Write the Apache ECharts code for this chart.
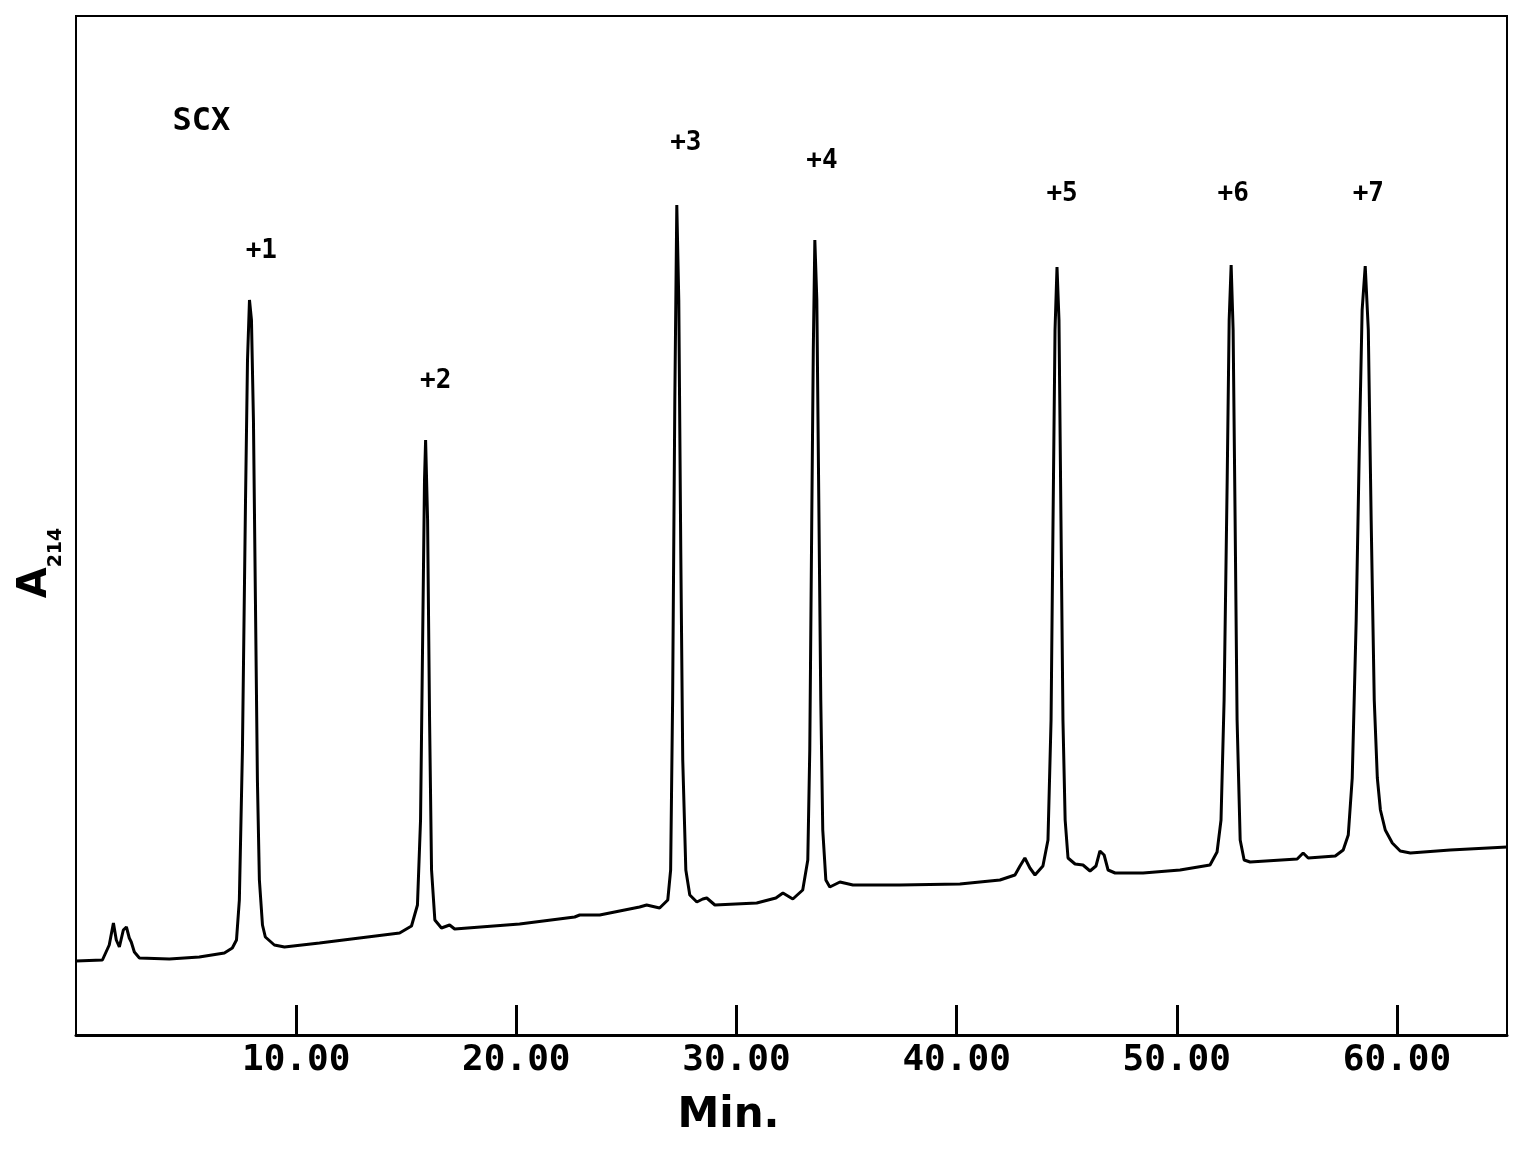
<!DOCTYPE html>
<html>
<head>
<meta charset="utf-8">
<script src="https://cdn.jsdelivr.net/npm/echarts@6/dist/echarts.min.js"></script>
<style>
html,body{margin:0;padding:0;background:#fff;}
#chart{width:1527px;height:1150px;}
</style>
</head>
<body>
<div id="chart"></div>
<script>
// Retention time (min)
const timeMin = [
  0.00, 1.20, 1.51, 1.70, 1.83, 1.97, 2.15, 2.29, 2.42, 2.51, 2.65, 2.88, 4.24, 5.60, 6.74, 7.10, 7.29,
  7.42, 7.56, 7.70, 7.79, 7.88, 7.97, 8.06, 8.15, 8.24, 8.33, 8.47, 8.60, 9.01, 9.47,
  11.06, 12.88, 14.70, 15.24, 15.51, 15.65, 15.74, 15.83, 15.88, 15.97, 16.06, 16.15, 16.30, 16.60, 16.97, 17.20,
  20.15, 22.65, 22.88, 23.79, 25.60, 25.92, 26.51, 26.88,
  27.01, 27.10, 27.20, 27.29, 27.38, 27.47, 27.56, 27.70, 27.88, 28.20, 28.47, 28.65, 29.02,
  30.92, 31.79, 32.11, 32.56, 33.01,
  33.24, 33.33, 33.42, 33.49, 33.56, 33.65, 33.74, 33.83, 33.92, 34.06, 34.24, 34.70, 35.29,
  37.42, 40.15, 41.97, 42.65, 42.88, 43.10, 43.33, 43.56, 43.92,
  44.15, 44.29, 44.38, 44.47, 44.56, 44.65, 44.74, 44.83, 44.93, 45.06, 45.38, 45.74,
  46.06, 46.33, 46.51, 46.70, 46.88, 47.20, 48.47, 50.15, 51.51,
  51.83, 52.01, 52.15, 52.29, 52.38, 52.47, 52.56, 52.65, 52.74, 52.88, 53.06, 53.33,
  55.47, 55.74, 55.97, 57.20, 57.56,
  57.79, 57.97, 58.15, 58.29, 58.42, 58.56, 58.70, 58.83, 58.97, 59.11, 59.25, 59.47, 59.79, 60.15, 60.61,
  62.42, 65.00
];
// Absorbance at 214 nm (arbitrary units)
const absorbance = [
  7.4, 7.5, 9.0, 11.2, 9.5, 8.8, 10.5, 10.8, 9.7, 9.3, 8.3, 7.7, 7.6, 7.8, 8.2, 8.7, 9.5,
  13.5, 28.5, 53.5, 67.5, 73.5, 71.5, 61.5, 43.5, 25.5, 15.5, 11.0, 9.8, 9.0, 8.8,
  9.2, 9.7, 10.2, 10.9, 13.0, 21.5, 38.5, 55.5, 59.5, 51.5, 31.5, 16.5, 11.5, 10.7, 11.0, 10.6,
  11.1, 11.8, 12.0, 12.0, 12.8, 13.0, 12.7, 13.5,
  16.5, 33.5, 63.5, 83.0, 73.5, 48.5, 27.5, 16.5, 14.0, 13.3, 13.6, 13.7, 13.0,
  13.2, 13.7, 14.2, 13.6, 14.5,
  17.5, 28.5, 51.5, 68.5, 79.5, 73.5, 53.5, 33.5, 20.5, 15.5, 14.8, 15.3, 15.0,
  15.0, 15.1, 15.5, 16.0, 16.9, 17.7, 16.7, 16.0, 16.9,
  19.5, 31.5, 51.5, 70.5, 76.8, 71.5, 51.5, 31.5, 21.5, 17.7, 17.1, 17.0,
  16.4, 16.9, 18.4, 18.0, 16.5, 16.2, 16.2, 16.5, 17.0,
  18.3, 21.5, 33.5, 55.5, 71.5, 77.0, 70.5, 51.5, 31.5, 19.5, 17.5, 17.3,
  17.6, 18.2, 17.7, 17.9, 18.5,
  20.0, 25.7, 41.5, 58.5, 72.5, 76.9, 70.5, 51.5, 33.5, 25.7, 22.5, 20.5, 19.2, 18.4, 18.2,
  18.5, 18.8
];
// Annotations
const noteText = ['SCX', '+1', '+2', '+3', '+4', '+5', '+6', '+7'];
const noteTime = [5.7, 8.42, 16.34, 27.70, 33.88, 44.79, 52.56, 58.70];
const noteLevel = [91.3, 78.4, 65.4, 89.2, 87.4, 84.1, 84.1, 84.1];
const xTicks = [10, 20, 30, 40, 50, 60];

const traceData = timeMin.map((t, i) => [t, absorbance[i]]);
const noteData = noteText.map((s, i) => {
  const item = { value: [noteTime[i], noteLevel[i]], name: s };
  if (i === 0) item.label = { fontSize: 32 };
  return item;
});

const chart = echarts.init(document.getElementById('chart'), null, { renderer: 'canvas' });
chart.setOption({
  animation: false,
  backgroundColor: '#fff',
  grid: {
    left: 76, right: 20, top: 16, bottom: 115,
    outerBoundsMode: 'none', containLabel: false,
    show: true, borderColor: '#000', borderWidth: 2, backgroundColor: 'transparent'
  },
  xAxis: {
    type: 'value', min: 0, max: 65, interval: 10,
    name: 'Min.', nameLocation: 'middle', nameGap: 60,
    nameTextStyle: { fontFamily: 'DejaVu Sans', fontWeight: 'bold', fontSize: 42, color: '#000', padding: [0, 126, 0, 0] },
    axisLine: { show: true, onZero: false, lineStyle: { color: '#000', width: 3 } },
    axisTick: { show: true, inside: true, length: 30, lineStyle: { color: '#000', width: 3 } },
    axisLabel: {
      show: true, margin: 8, showMinLabel: false, showMaxLabel: false,
      fontFamily: 'DejaVu Sans Mono', fontWeight: 'bold', fontSize: 36, color: '#000',
      formatter: v => (xTicks.indexOf(v) >= 0 ? v.toFixed(2) : '')
    },
    splitLine: { show: false }
  },
  yAxis: {
    type: 'value', min: 0, max: 101.9,
    name: '{a|A}{s|214}', nameLocation: 'middle', nameRotate: 90, nameGap: 10,
    nameTextStyle: {
      color: '#000', padding: [0, 75, 0, 0],
      rich: {
        a: { fontFamily: 'DejaVu Sans', fontWeight: 'bold', fontSize: 40, color: '#000', verticalAlign: 'bottom', lineHeight: 44, padding: [0, 0, 10, 0] },
        s: { fontFamily: 'DejaVu Sans', fontWeight: 'bold', fontSize: 19, color: '#000', verticalAlign: 'bottom', lineHeight: 24 }
      }
    },
    axisLine: { show: false }, axisTick: { show: false }, axisLabel: { show: false }, splitLine: { show: false }
  },
  series: [
    {
      type: 'line', data: traceData, showSymbol: false, symbol: 'none', smooth: false,
      lineStyle: { color: '#000', width: 3 }, z: 3
    },
    {
      type: 'scatter', data: noteData, symbolSize: 0, z: 4,
      itemStyle: { opacity: 1, color: '#000' },
      label: {
        show: true, position: 'inside', formatter: p => p.name,
        fontFamily: 'DejaVu Sans Mono', fontWeight: 'bold', fontSize: 26, color: '#000',
        textBorderWidth: 0
      }
    }
  ]
});
</script>
</body>
</html>
